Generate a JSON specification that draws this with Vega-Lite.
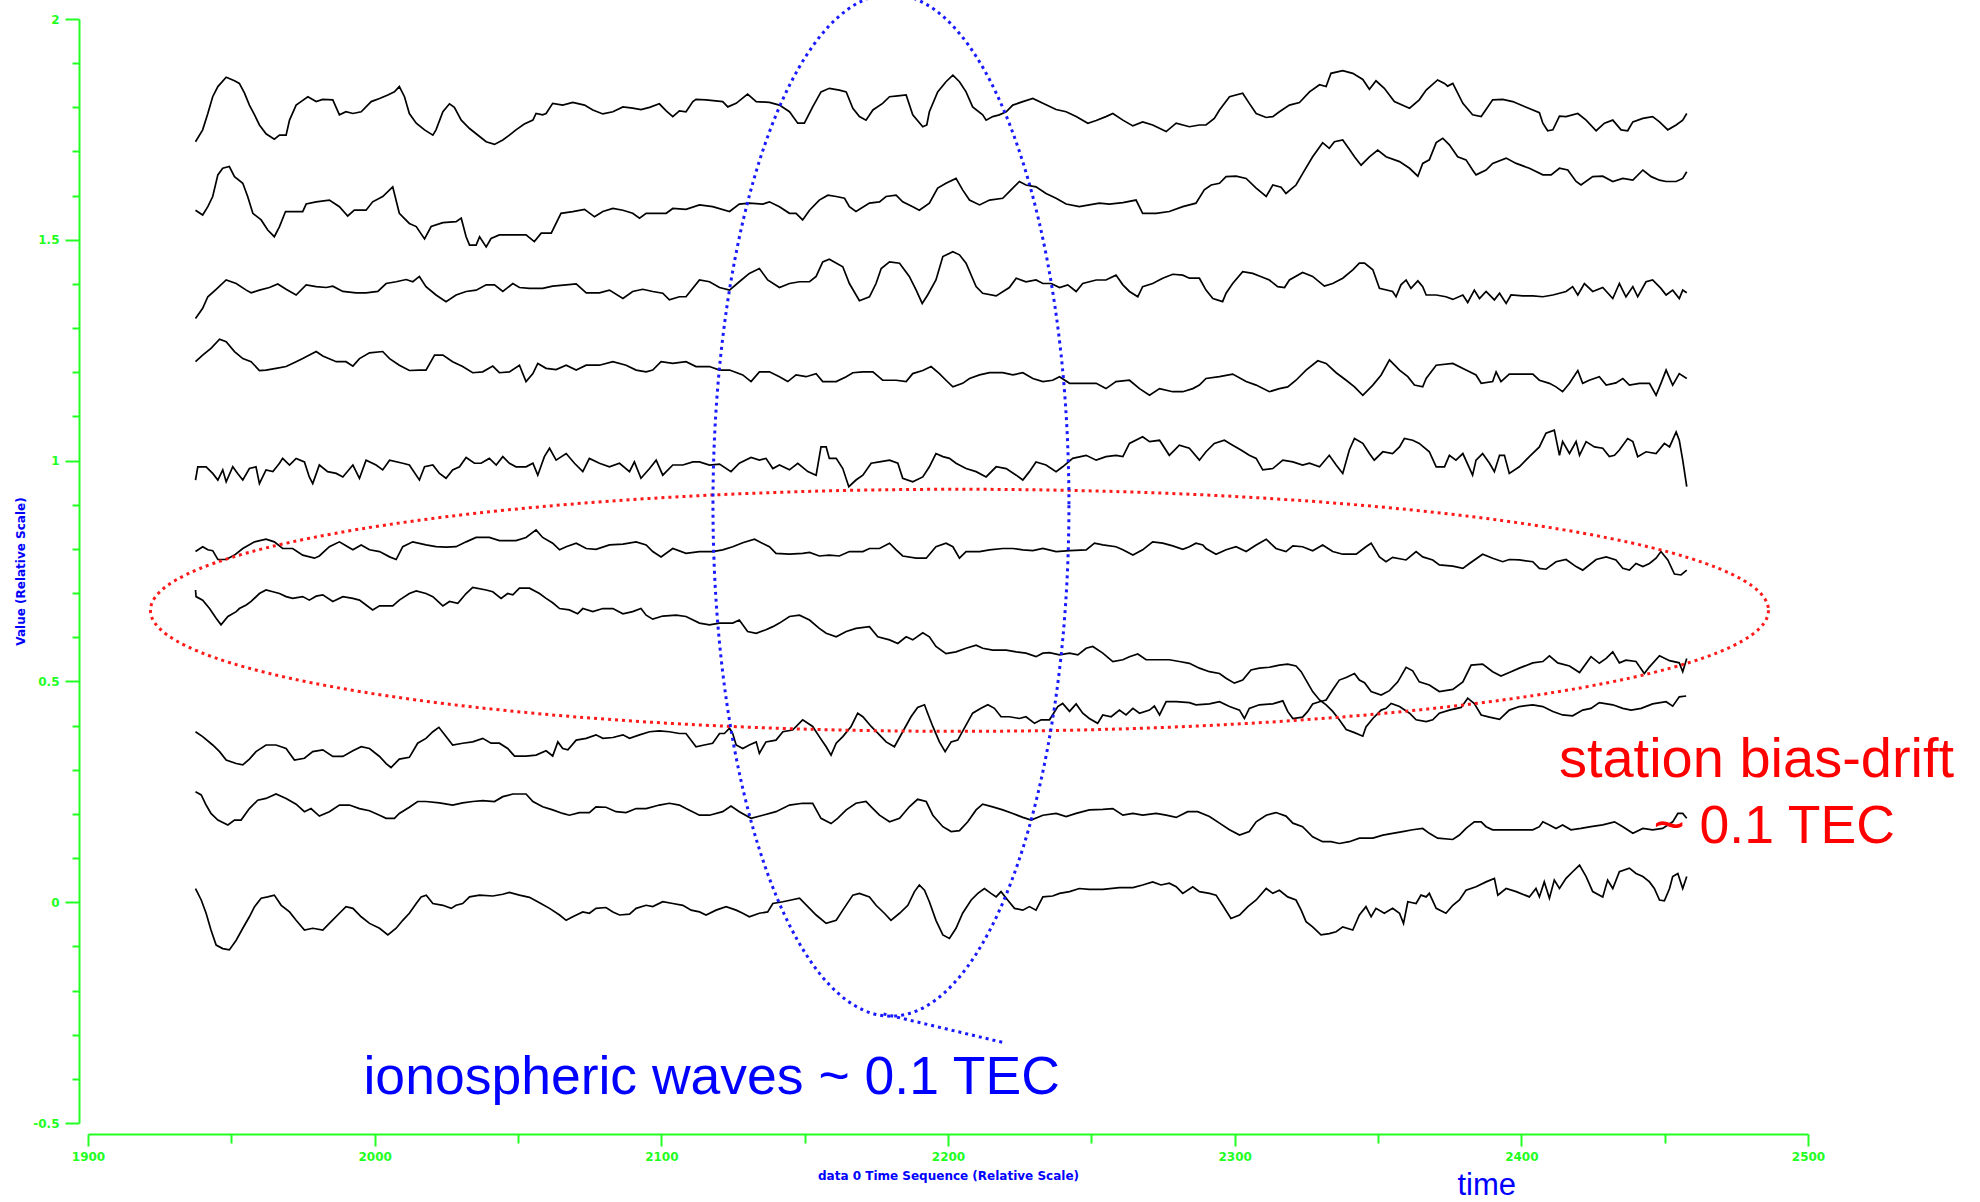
{
"$schema": "https://vega.github.io/schema/vega-lite/v6.json",
"width": 1720,
"height": 1104,
"autosize": {"type": "none"},
"padding": {"left": 88, "top": 19, "right": 172, "bottom": 79},
"background": "white",
"config": {"view": {"stroke": null}, "axis": {"grid": false}},
"resolve": {"axis": {"x": "independent", "y": "independent"}},
"layer": [
{
"data": {"values": [
{"s": 1,
"x": [1937.5,1940,1941.8,1943.5,1945.3,1948.2,1951.1,1952.8,1954.6,1956.3,1958.1,1959.8,1962.1,1965,1966.8,1969.1,1970.3,1972.6,1974.3,1976.7,1979.6,1981.9,1985.4,1987.7,1990,1992.4,1995.3,1998.8,2001.7,2004.6,2006.9,2008.6,2010.4,2012.1,2014.5,2017.4,2020.3,2021.4,2023.8,2026.1,2027.8,2030.2,2033.1,2036.6,2038.9,2041.8,2044.7,2047,2049.3,2052.2,2055.2,2056.3,2058.6,2059.8,2062.1,2065.6,2069.1,2073.2,2076.1,2079.6,2083.1,2086.6,2090,2092.9,2095.9,2099.3,2101.7,2104,2106.3,2108.6,2111,
2112.1,2115.6,2121.4,2123.2,2126.1,2130.1,2133.1,2137.7,2141.2,2144.7,2147.6,2149.9,2152.8,2155.7,2158.6,2162.1,2164.5,2166.8,2169.1,2171.4,2173.8,2177.2,2179.6,2182.5,2185.4,2187.7,2191.2,2192.6,2193.5,2196.4,2199.3,2201.7,2204,2206.3,2208.6,2212.1,2213.3,2215.6,2217.9,2220.3,2222.6,2226.1,2229.6,2233.1,2237.7,2241.2,2244.7,2248.8,2251.7,2255.1,2257.5,2261,2264.5,2267.9,2271.4,2276.1,2279.6,2284.2,2287.7,
2290,2292.9,2294.7,2298.2,2302.8,2305.1,2307.5,2311,2313.3,2315.6,2319.1,2322.6,2326.1,2329.6,2331.9,2333.6,2337.7,2341.2,2344.7,2347,2349.3,2352.2,2355.7,2361,2364.4,2366.8,2370.8,2373.2,2374.3,2376.1,2379.6,2383,2386,2390,2393.5,2397,2401.7,2406.3,2407.5,2409.2,2411,2413.3,2415.6,2419.7,2422.6,2426.1,2429,2431.9,2434.8,2437.1,2438.9,2442.4,2445.8,2448.2,2451.1,2454,2456.3,2457.7],
"y": [1.722,1.749,1.786,1.824,1.847,1.868,1.860,1.854,1.832,1.805,1.783,1.760,1.740,1.728,1.737,1.737,1.771,1.805,1.813,1.824,1.813,1.818,1.817,1.783,1.790,1.786,1.790,1.813,1.820,1.828,1.835,1.847,1.824,1.786,1.764,1.749,1.737,1.749,1.790,1.808,1.800,1.771,1.752,1.734,1.722,1.716,1.726,1.737,1.749,1.762,1.771,1.786,1.783,1.786,1.809,1.805,1.811,1.805,1.794,1.785,1.790,1.801,1.798,1.795,1.800,1.808,1.792,1.779,1.792,1.790,1.813,
1.818,1.817,1.813,1.801,1.809,1.830,1.813,1.811,1.805,1.790,1.764,1.764,1.801,1.835,1.843,1.839,1.835,1.798,1.779,1.771,1.794,1.809,1.824,1.826,1.828,1.783,1.756,1.760,1.790,1.835,1.858,1.873,1.858,1.835,1.801,1.783,1.771,1.779,1.783,1.790,1.805,1.813,1.820,1.809,1.795,1.790,1.779,1.764,1.770,1.779,1.786,1.771,1.758,1.767,1.760,1.745,1.764,1.756,1.760,
1.760,1.775,1.794,1.824,1.832,1.809,1.786,1.777,1.779,1.790,1.805,1.811,1.835,1.851,1.847,1.877,1.883,1.877,1.863,1.841,1.860,1.843,1.813,1.798,1.817,1.839,1.862,1.854,1.848,1.854,1.809,1.783,1.779,1.817,1.818,1.813,1.800,1.788,1.764,1.747,1.749,1.780,1.779,1.786,1.771,1.747,1.764,1.771,1.749,1.747,1.767,1.775,1.779,1.767,1.749,1.760,1.771,1.786]},
{"s": 2,
"x": [1937.5,1940,1941.8,1943.5,1945.3,1947,1949.3,1951.1,1954,1955.7,1957.5,1960.4,1962.7,1965,1966.8,1968.9,1972,1974.9,1976.1,1979.6,1984.2,1987.7,1990.6,1992.9,1997,1999.3,2002.8,2006.3,2008.6,2012.1,2014.5,2017.4,2019.7,2023.8,2028.4,2030.2,2031.9,2033.1,2035.4,2036.6,2038.9,2040.6,2043.5,2048.2,2052.8,2055.7,2058.1,2061.6,2065,2069.1,2073.2,2076.7,2079.6,2083.1,2086.6,2090,2092.4,2094.7,2098.2,2101.7,2104,2108.6,
2113.3,2117.9,2123.8,2127.2,2130.7,2135.4,2137.7,2141.2,2144.7,2147,2149.3,2151.7,2155.1,2158.1,2161,2163.9,2165.6,2167.9,2172.6,2176.1,2178.4,2181.9,2184.2,2187.7,2190,2193.5,2196.4,2199.3,2202.8,2205.1,2207.5,2211,2214.5,2219.1,2222,2224.9,2227.2,2230.7,2234.2,2237.7,2241.2,2245.8,2249.3,2252.8,2256.3,2261,2265.6,2267.9,2272.6,2277.2,2281.9,2286.5,
2289.4,2291.8,2294.7,2297,2300.5,2304,2307.5,2311,2313.3,2316.2,2317.9,2321.4,2323.7,2327.2,2330.7,2333,2334.8,2337.7,2340,2341.8,2344.1,2347,2349.9,2352.8,2357.5,2361,2363.9,2365.6,2367.9,2370.3,2372.6,2374.9,2377.8,2380.7,2383,2384.2,2387.7,2390,2394.7,2398.2,2402.8,2407.5,2410.4,2413.3,2416.2,2419.1,2420.8,2424.9,2428.4,2431.9,2435.4,2438.9,2442.4,2445.3,2448.2,2450.5,2454,2456.3,2457.7],
"y": [1.567,1.556,1.575,1.598,1.647,1.662,1.666,1.643,1.628,1.598,1.560,1.545,1.522,1.507,1.530,1.564,1.564,1.564,1.581,1.586,1.590,1.575,1.554,1.567,1.567,1.586,1.598,1.620,1.560,1.537,1.530,1.502,1.530,1.539,1.541,1.549,1.507,1.488,1.488,1.507,1.484,1.503,1.511,1.511,1.511,1.496,1.515,1.515,1.560,1.564,1.569,1.552,1.564,1.571,1.567,1.560,1.549,1.560,1.560,1.560,1.571,1.569,
1.579,1.575,1.564,1.581,1.583,1.581,1.586,1.575,1.560,1.560,1.545,1.567,1.590,1.601,1.598,1.594,1.575,1.564,1.583,1.586,1.598,1.601,1.586,1.575,1.567,1.583,1.617,1.628,1.639,1.613,1.590,1.579,1.590,1.594,1.613,1.632,1.624,1.620,1.605,1.594,1.581,1.575,1.579,1.583,1.581,1.584,1.590,1.560,1.560,1.564,1.575,1.583,
1.613,1.624,1.628,1.643,1.644,1.639,1.617,1.598,1.624,1.619,1.605,1.624,1.650,1.688,1.720,1.707,1.722,1.726,1.705,1.688,1.669,1.688,1.703,1.688,1.677,1.662,1.644,1.673,1.681,1.720,1.730,1.715,1.688,1.681,1.658,1.647,1.658,1.673,1.685,1.673,1.662,1.647,1.647,1.662,1.658,1.632,1.624,1.643,1.644,1.632,1.639,1.635,1.658,1.643,1.635,1.632,1.632,1.639,1.654]},
{"s": 3,
"x": [1937.5,1940,1941.8,1944.7,1948.2,1951.7,1955.2,1956.9,1959.8,1963.3,1966.2,1969.1,1972.6,1976.1,1979.6,1983.1,1985.4,1988.9,1993.5,1997,2001.1,2004,2007.5,2011,2013.3,2015.6,2017.9,2021.4,2024.9,2028.4,2031.9,2035.4,2038.9,2041.8,2044.7,2048.2,2050.5,2054,2058.6,2062.1,2066.8,2070.3,2073.8,2078.4,2081.9,2086.6,2090,2093.5,2097,2100.5,2102.8,2106.3,2108.6,
2113.3,2116.8,2120.3,2123.8,2127.2,2130.7,2134.2,2137.1,2141.2,2144.7,2148.2,2151.7,2154,2156.3,2158.6,2163.3,2165.6,2169.1,2172.6,2174.9,2176.7,2179.6,2183.1,2186.5,2188.9,2191,2192.9,2195.8,2198.2,2201.7,2204,2206.3,2209.8,2212.1,2216.8,2221.4,2223.8,2227.2,2230.7,2233.1,2236,2238.9,2241.8,2244.7,2247,2251.7,2255.1,2258.6,2261,2263.3,2266.2,2267.9,2271.4,2274.9,2278.4,2281.9,2284.2,2287.7,
2290,2292.4,2295.8,2297,2299.3,2302.8,2306.3,2308.6,2312.1,2315,2317.4,2319.1,2323.7,2327.2,2331.3,2334.2,2337.7,2341.2,2343.5,2345.3,2348.2,2350.5,2355.1,2356.3,2358,2359.8,2361.5,2363.9,2365.6,2366.8,2370.3,2373.7,2376.1,2379.6,2381.3,2383.6,2385.4,2387.7,2390.6,2392.4,2394.7,2396.4,2400.5,2404,2407.5,2411,2415.6,2417.9,2419.7,2422,2424.9,2428.4,2431.9,2434.2,2436.5,2438.9,2440.6,2443.5,2445.8,2448.7,2450.5,2452.8,2455.1,2456.3,2457.7],
"y": [1.322,1.345,1.371,1.388,1.409,1.401,1.386,1.380,1.386,1.392,1.400,1.388,1.375,1.398,1.394,1.392,1.395,1.383,1.380,1.380,1.383,1.401,1.405,1.410,1.405,1.417,1.394,1.375,1.360,1.375,1.383,1.386,1.398,1.398,1.383,1.401,1.392,1.390,1.390,1.395,1.398,1.400,1.380,1.380,1.386,1.367,1.383,1.388,1.383,1.379,1.364,1.371,1.371,
1.409,1.405,1.392,1.386,1.405,1.424,1.435,1.409,1.392,1.401,1.405,1.405,1.417,1.450,1.456,1.439,1.401,1.362,1.371,1.401,1.435,1.450,1.447,1.417,1.386,1.356,1.375,1.409,1.462,1.473,1.466,1.447,1.394,1.379,1.373,1.392,1.413,1.405,1.409,1.401,1.401,1.392,1.398,1.383,1.401,1.409,1.409,1.420,1.398,1.383,1.371,1.394,1.401,1.413,1.422,1.420,1.413,1.413,
1.386,1.367,1.360,1.379,1.401,1.428,1.424,1.418,1.409,1.394,1.392,1.409,1.426,1.417,1.395,1.401,1.413,1.432,1.447,1.447,1.432,1.390,1.383,1.371,1.398,1.409,1.390,1.407,1.394,1.375,1.375,1.371,1.365,1.375,1.358,1.386,1.367,1.383,1.364,1.379,1.356,1.375,1.373,1.373,1.371,1.375,1.383,1.394,1.375,1.401,1.383,1.392,1.367,1.401,1.371,1.394,1.371,1.405,1.409,1.390,1.375,1.386,1.367,1.386,1.380]},
{"s": 4,
"x": [1937.5,1940,1942.9,1945.9,1948.2,1951.1,1954,1956.9,1959.8,1962.1,1965.6,1969.1,1972.6,1974.9,1979.6,1981.9,1986.6,1990,1992.4,1994.7,1998.2,2002.8,2005.2,2008.6,2012.1,2015.6,2017.9,2020.9,2023.8,2027.2,2030.7,2034.2,2037.7,2041.2,2043.5,2047,2050.5,2052.8,2055.2,2056.9,2059.8,2063.3,2066.8,2070.3,2073.8,2078.4,2083.1,2087.7,2091.2,2094.7,2097,2099.9,2104,2108.6,
2112.1,2116.8,2120.3,2123.8,2128.4,2131.3,2134.2,2137.7,2141.2,2144.1,2147,2150.5,2154,2156.3,2161,2164.5,2166.8,2170.3,2173.8,2177.2,2181.9,2185.4,2187.7,2191.2,2194.1,2197,2199.3,2201.7,2205.1,2207.5,2211,2214.5,2219.1,2222.6,2226.1,2229.6,2233.1,2236.5,2238.9,2242.4,2247,2251.7,2255.1,2258.6,2263.3,2266.8,2270.3,2273.8,2278.4,2281.9,2285.4,2287.7,
2290,2294.7,2299.3,2304,2307.5,2312.1,2315.6,2318.5,2321.4,2324.9,2329,2331.9,2335.4,2338.9,2341.8,2344.7,2348.2,2351.1,2354,2357.5,2360.4,2362.7,2365.6,2366.8,2370.3,2376.1,2380.7,2384.2,2386,2390,2391.2,2392.9,2395.8,2404,2406.3,2409.8,2412.1,2414.4,2416.8,2419.7,2421.4,2423.7,2427.2,2429.6,2433,2435.4,2437.7,2441.2,2444.7,2447,2448.7,2450.5,2452.8,2455.1,2457.7],
"y": [1.224,1.239,1.254,1.275,1.269,1.247,1.231,1.224,1.204,1.205,1.209,1.213,1.224,1.231,1.247,1.237,1.224,1.224,1.214,1.231,1.244,1.247,1.231,1.216,1.204,1.205,1.205,1.239,1.239,1.224,1.213,1.199,1.201,1.214,1.199,1.201,1.216,1.179,1.197,1.220,1.209,1.206,1.216,1.205,1.216,1.216,1.224,1.216,1.205,1.201,1.205,1.224,1.220,1.224,
1.213,1.213,1.205,1.205,1.194,1.179,1.201,1.201,1.190,1.179,1.194,1.190,1.197,1.179,1.179,1.190,1.199,1.201,1.201,1.182,1.182,1.179,1.197,1.204,1.213,1.197,1.182,1.167,1.175,1.186,1.194,1.199,1.199,1.194,1.199,1.186,1.179,1.182,1.190,1.175,1.175,1.175,1.163,1.179,1.182,1.163,1.148,1.163,1.156,1.156,1.163,1.171,
1.186,1.190,1.196,1.179,1.171,1.156,1.163,1.167,1.182,1.205,1.226,1.220,1.199,1.182,1.167,1.148,1.171,1.194,1.228,1.205,1.190,1.171,1.167,1.186,1.216,1.220,1.205,1.194,1.175,1.179,1.201,1.179,1.196,1.196,1.182,1.175,1.167,1.156,1.175,1.204,1.175,1.182,1.190,1.171,1.176,1.186,1.171,1.175,1.175,1.148,1.175,1.205,1.171,1.197,1.186]},
{"s": 5,
"x": [1937.5,1938.3,1941.2,1943.5,1945.3,1947,1948.2,1950.5,1952.2,1954,1956.3,1958.6,1959.8,1962.1,1964.5,1966.8,1967.9,1970.3,1972.6,1975.5,1977.2,1978.4,1980.7,1983.6,1986.6,1988.9,1992.4,1994.7,1997,2000.5,2002.8,2005.2,2009.8,2012.1,2015.6,2017.4,2020.3,2022.6,2024.9,2027.2,2029.6,2031.9,2034.8,2037.1,2040,2042.4,2044.7,2047,2049.3,2052.8,2055.2,2056.9,2059.2,2061,2063.3,2066.8,2069.7,2072.6,2074.9,2078.4,2081.9,2085.4,2088.9,2090.6,2092.9,2095.9,2098.2,2100.5,2104,2107.5,2111,
2113.3,2116.8,2120.3,2124.3,2127.2,2131.3,2134.2,2136.5,2138.9,2141.2,2144.7,2147.6,2151.1,2154,2155.7,2157.5,2158.6,2161,2163.3,2165.4,2167.9,2170.3,2173.2,2176.1,2179.6,2182.5,2184.2,2187.7,2191.2,2193.5,2195.8,2198.2,2200.5,2202.8,2206.3,2209.8,2213.3,2216.8,2220.3,2223.8,2226.1,2228.4,2230.7,2234.2,2237.7,2240,2243.5,2248.2,2251.7,2255.1,2258.6,2261,2263.3,2267.9,2270.3,2273.8,2277.2,2280.7,2284.2,2287.7,
2290,2292.9,2296.4,2299.3,2302.2,2305.1,2307.5,2309.8,2313.3,2316.8,2320.3,2323.7,2326.1,2329.6,2333,2335.4,2337.7,2340,2341.8,2344.7,2347,2348.7,2351.7,2355.1,2357.5,2359.2,2362.1,2364.4,2367.9,2370.3,2373.2,2374.9,2377.2,2379.6,2383,2384.2,2386.5,2388.9,2390.6,2392.4,2394.1,2395.8,2399.3,2402.8,2406.3,2408.6,2411.5,2413.3,2414.4,2416.8,2419.1,2420.3,2422.6,2425.5,2428.4,2430.7,2432.5,2434.2,2437.1,2438.9,2440.6,2443.5,2447,2449.9,2451.7,2454,2455.1,2456.3,2457.7],
"y": [0.956,0.986,0.986,0.971,0.956,0.979,0.952,0.986,0.971,0.956,0.982,0.986,0.948,0.979,0.975,0.994,1.005,0.990,1.005,0.997,0.963,0.948,0.990,0.975,0.971,0.963,0.990,0.960,1.001,0.990,0.979,1.001,0.994,0.990,0.956,0.986,0.990,0.971,0.960,0.979,0.986,1.007,0.994,0.994,1.005,0.990,1.009,0.994,0.986,0.986,0.994,0.967,1.009,1.028,1.001,1.016,0.994,0.975,1.005,0.994,0.986,0.994,0.975,0.997,0.960,0.982,1.001,0.967,0.990,0.990,0.997,
0.997,0.990,0.992,0.975,0.994,1.007,1.001,1.005,0.982,0.990,0.979,0.994,0.975,0.967,1.031,1.031,1.005,1.005,0.982,0.941,0.956,0.967,0.994,0.997,1.001,0.994,0.960,0.952,0.963,0.986,1.016,1.009,1.005,0.994,0.982,0.975,0.963,0.986,0.982,0.967,0.956,0.975,0.997,0.990,0.975,0.986,1.005,1.012,1.001,1.009,1.012,1.009,1.039,1.054,1.043,1.046,1.012,1.035,1.028,1.001,
1.020,1.039,1.046,1.035,1.024,1.012,1.005,0.979,0.982,1.001,0.997,0.990,0.994,0.986,1.012,0.990,0.971,1.024,1.050,1.039,1.016,1.001,1.020,1.016,1.031,1.050,1.046,1.039,1.020,0.986,0.986,1.012,1.001,1.016,0.967,1.001,1.016,0.994,0.975,1.012,1.012,0.971,0.986,1.009,1.031,1.062,1.069,1.012,1.043,1.016,1.043,1.012,1.043,1.031,1.028,1.009,1.012,1.024,1.050,1.043,1.009,1.020,1.016,1.039,1.031,1.065,1.046,1.001,0.941]},
{"s": 6,
"x": [1937.5,1940,1941.8,1943.5,1945.3,1948.2,1951.1,1954,1958.1,1962.1,1965,1967.9,1971.4,1974.9,1979,1980.7,1984.2,1987.7,1990,1992.4,1995.3,1998.2,2001.7,2005.2,2007.5,2009.8,2013.3,2017.9,2021.4,2024.9,2028.4,2031.9,2035.4,2040,2043.5,2049.3,2052.8,2056.3,2058.6,2062.1,2064.5,2066.8,2070.3,2073.8,2077.2,2081.9,2086.6,2091.2,2094.7,2097,2099.9,2104,2108.6,
2113.3,2117.9,2121.4,2124.9,2128.4,2132.5,2134.2,2137.7,2140,2144.7,2149.3,2151.7,2155.1,2158.6,2162.1,2165.6,2170.3,2172.6,2176.1,2179.6,2181.9,2184.2,2188.9,2192.4,2195.8,2199.3,2201.7,2204,2206.3,2211,2214.5,2219.1,2222.6,2226.1,2229.6,2233.1,2237.7,2242.4,2248.2,2251.1,2254,2258.6,2261,2264.5,2267.9,2271.4,2274.9,2278.4,2281.9,2284.2,2286.5,2288.9,
2290,2293.5,2297,2300.5,2304,2307.5,2311,2314.4,2317.9,2320.3,2323.7,2327.2,2330.7,2334.2,2337.7,2342.4,2345.8,2347.6,2350.5,2352.8,2355.1,2359.8,2363.3,2365.6,2369.1,2371.4,2376.1,2379.6,2381.9,2386.5,2390,2393.5,2395.8,2399.3,2404,2406.3,2408.6,2412.1,2415.6,2419.1,2421.4,2426.1,2429.6,2433,2435.4,2437.7,2440,2442.4,2444.7,2447,2448.7,2451.1,2453.4,2455.7,2457.7],
"y": [0.794,0.805,0.798,0.796,0.776,0.776,0.786,0.801,0.816,0.822,0.816,0.801,0.801,0.786,0.779,0.784,0.805,0.816,0.807,0.798,0.809,0.798,0.794,0.782,0.776,0.805,0.816,0.809,0.805,0.804,0.805,0.816,0.826,0.826,0.819,0.819,0.826,0.843,0.826,0.813,0.798,0.805,0.813,0.801,0.799,0.809,0.811,0.816,0.809,0.794,0.782,0.801,0.790,
0.794,0.794,0.798,0.805,0.814,0.822,0.816,0.805,0.790,0.788,0.790,0.792,0.784,0.786,0.784,0.794,0.794,0.801,0.801,0.813,0.798,0.784,0.779,0.779,0.805,0.813,0.805,0.779,0.794,0.794,0.798,0.801,0.801,0.798,0.796,0.801,0.794,0.796,0.798,0.813,0.809,0.805,0.798,0.786,0.798,0.816,0.813,0.807,0.799,0.805,0.813,0.809,
0.801,0.788,0.798,0.805,0.794,0.809,0.822,0.801,0.794,0.807,0.805,0.796,0.809,0.794,0.788,0.788,0.805,0.813,0.782,0.771,0.781,0.775,0.794,0.782,0.775,0.764,0.761,0.756,0.767,0.788,0.779,0.771,0.776,0.775,0.771,0.756,0.754,0.771,0.776,0.760,0.752,0.776,0.782,0.775,0.756,0.752,0.767,0.760,0.767,0.779,0.794,0.775,0.743,0.741,0.752]},
{"s": 7,
"x": [1937.5,1937.7,1940,1942.4,1944.7,1946.4,1948.8,1951.7,1952.8,1955.2,1956.9,1959.8,1962.1,1964.5,1966.8,1969.1,1971.4,1974.9,1977.2,1979.6,1981.9,1985.4,1988.9,1992.4,1994.7,1997,1999.3,2001.7,2006.3,2008.6,2012.1,2014.5,2017.9,2020.3,2023.8,2026.1,2029,2031.9,2034.2,2038.9,2041.2,2044.1,2046.4,2048.2,2050.5,2054,2057.5,2059.8,2062.1,2064.5,2067.9,2070.8,2072.6,2076.1,2079.6,2083.1,2086.6,2090,2092.9,2094.7,2097,2100.5,2105.2,2108.6,
2113.3,2116.8,2120.3,2124.9,2127.2,2130.1,2133.1,2136.5,2138.9,2141.2,2144.7,2148.2,2151.7,2155.1,2157.5,2161,2164.5,2167.9,2172.6,2175.5,2179.6,2182.5,2185.4,2187.7,2191.2,2193.5,2195.8,2199.3,2202.8,2206.3,2209.8,2212.1,2215.6,2220.3,2223.8,2227.2,2230.7,2233.1,2235.4,2238.9,2242.4,2245.3,2248.2,2250.5,2254,2257.5,2261,2263.3,2266.2,2269.1,2272.6,2277.2,2280.7,2284.2,2287.7,
2291.2,2294.7,2297,2299.9,2302.8,2305.7,2308.6,2312.1,2315.6,2318.5,2321.4,2323.2,2324.9,2327.2,2329.6,2331.9,2334.2,2336.5,2338.9,2341.8,2344.7,2345.8,2348.2,2351.1,2352.8,2354.6,2357.5,2361,2363.3,2366.8,2369.1,2371.4,2374.9,2379,2381.3,2383.6,2386,2388.9,2392.4,2395.8,2399.3,2404,2407.5,2411,2414.4,2417.9,2421.4,2424.3,2427.2,2431.9,2435.4,2438.3,2441.8,2445.8,2450.5,2452.8,2455.1,2457.5],
"y": [0.707,0.692,0.684,0.665,0.643,0.628,0.647,0.658,0.665,0.673,0.681,0.699,0.707,0.703,0.699,0.692,0.688,0.692,0.684,0.693,0.696,0.681,0.692,0.688,0.684,0.673,0.662,0.671,0.671,0.684,0.699,0.705,0.699,0.692,0.671,0.681,0.677,0.699,0.713,0.707,0.703,0.688,0.699,0.696,0.711,0.711,0.699,0.688,0.678,0.665,0.662,0.653,0.665,0.658,0.665,0.665,0.653,0.658,0.665,0.650,0.641,0.648,0.650,0.647,
0.632,0.628,0.632,0.632,0.639,0.613,0.609,0.617,0.624,0.632,0.647,0.650,0.639,0.620,0.609,0.601,0.613,0.620,0.624,0.601,0.594,0.586,0.601,0.594,0.610,0.601,0.579,0.563,0.567,0.575,0.582,0.575,0.571,0.571,0.567,0.564,0.556,0.564,0.565,0.560,0.564,0.560,0.575,0.579,0.564,0.545,0.549,0.556,0.562,0.549,0.549,0.549,0.545,0.541,0.530,
0.522,0.518,0.507,0.496,0.503,0.526,0.530,0.532,0.537,0.539,0.535,0.522,0.503,0.477,0.458,0.447,0.432,0.413,0.391,0.384,0.376,0.397,0.416,0.435,0.439,0.450,0.443,0.428,0.413,0.409,0.413,0.428,0.435,0.441,0.462,0.450,0.424,0.419,0.414,0.435,0.443,0.447,0.443,0.432,0.424,0.422,0.435,0.439,0.452,0.447,0.439,0.435,0.439,0.449,0.454,0.444,0.465,0.467]},
{"s": 8,
"x": [1937.5,1940,1943.5,1945.9,1948.2,1951.7,1954,1956.3,1958.6,1962.1,1965.6,1969.1,1972,1975.5,1978.4,1981.9,1985.4,1988.9,1992.4,1995.3,1998.2,2001.7,2004,2005.7,2008.6,2012.1,2015,2017.9,2020.3,2022.4,2024.9,2027.2,2030.7,2034.2,2037.7,2040.6,2043.5,2046.4,2048.8,2052.8,2056.3,2059.8,2062.1,2063.9,2065.6,2067.4,2070.3,2073.8,2077.2,2079.6,2083.1,2086.6,2088.9,2092.4,2095.9,2099.3,2102.8,2106.3,2108.6,
2112.1,2115,2117.9,2120.3,2122,2123.8,2124.9,2126.1,2128.4,2130.7,2133.1,2134.2,2136.5,2140,2142.4,2145.8,2149.3,2152.8,2155.1,2157.5,2159.2,2161,2163.3,2166.2,2168.5,2170.3,2173.2,2176.1,2178.4,2181.3,2184.2,2187.1,2189.4,2191.8,2192.9,2194.7,2197,2199,2201.1,2203.4,2205.7,2208.6,2211.5,2213.9,2216.2,2218.5,2221.4,2224.9,2227.2,2230.2,2232.5,2235.4,2238.3,2240,2242.4,2244.7,2247,2249.3,2252.2,2254,2256.9,2259.8,2262.1,2264.5,2266.8,2270.3,2272,2273.8,2276.1,2279.6,2284.2,2286.5,
2291.2,2294.7,2298.2,2301.7,2303.4,2305.1,2308.6,2313.3,2316.8,2318.5,2320.3,2323.7,2325.5,2327.2,2329.6,2331.9,2334.2,2336.5,2338.9,2341.8,2343.5,2345.3,2347.6,2351.1,2354,2356.9,2359.8,2362.1,2364.4,2367.9,2371.4,2376.1,2379.6,2382.5,2386.5,2390,2392.9,2395.8,2399.3,2404,2407.5,2409.8,2412.7,2416.8,2420.3,2424.3,2427.2,2429.6,2431.9,2434.2,2436.5,2440,2442.9,2444.7,2448.2,2451.7,2455.1,2456.3,2457.7],
"y": [0.386,0.375,0.356,0.341,0.322,0.314,0.311,0.324,0.341,0.356,0.356,0.348,0.322,0.326,0.341,0.345,0.330,0.330,0.343,0.352,0.348,0.330,0.314,0.305,0.324,0.328,0.360,0.371,0.386,0.396,0.375,0.356,0.360,0.363,0.371,0.360,0.360,0.348,0.331,0.331,0.333,0.343,0.331,0.363,0.348,0.345,0.367,0.371,0.379,0.371,0.373,0.379,0.371,0.379,0.386,0.388,0.386,0.382,0.382,
0.352,0.356,0.360,0.382,0.382,0.394,0.382,0.356,0.348,0.356,0.363,0.337,0.363,0.367,0.386,0.390,0.413,0.398,0.375,0.352,0.333,0.360,0.375,0.398,0.428,0.420,0.398,0.379,0.363,0.352,0.386,0.420,0.441,0.447,0.428,0.398,0.363,0.341,0.363,0.367,0.394,0.428,0.439,0.447,0.439,0.420,0.420,0.416,0.420,0.405,0.413,0.413,0.443,0.450,0.432,0.449,0.428,0.416,0.405,0.424,0.420,0.435,0.424,0.439,0.428,0.435,0.444,0.424,0.454,0.454,0.452,0.447,
0.449,0.454,0.443,0.435,0.416,0.439,0.447,0.449,0.456,0.432,0.416,0.419,0.432,0.449,0.454,0.458,0.481,0.503,0.509,0.518,0.503,0.497,0.477,0.469,0.479,0.499,0.532,0.524,0.499,0.492,0.477,0.482,0.499,0.537,0.539,0.522,0.512,0.520,0.530,0.542,0.545,0.558,0.542,0.535,0.520,0.556,0.541,0.552,0.567,0.542,0.548,0.545,0.518,0.533,0.558,0.547,0.542,0.522,0.552]},
{"s": 9,
"x": [1937.5,1939.5,1941.2,1942.9,1945.3,1948.8,1951.1,1953.4,1956.3,1959.2,1962.1,1965.6,1969.1,1972.6,1975.5,1977.8,1980.7,1984.2,1987.7,1991.2,1994.7,1998.2,2001.7,2004,2006.9,2008.6,2012.1,2015,2017.9,2022.6,2027.2,2030.7,2034.2,2037.7,2041.8,2044.7,2048.2,2052.8,2055.2,2058.6,2062.1,2065.6,2067.9,2071.4,2074.9,2077.2,2080.7,2084.2,2087.7,2091.2,2094.7,2099.3,2102.8,2106.3,2108.6,
2113.3,2116.8,2121.4,2124.3,2127.2,2131.3,2135.4,2140,2144.7,2149.3,2152.8,2155.7,2159.2,2161.5,2164.5,2167.9,2171.4,2173.2,2176.1,2179.6,2183.1,2186.5,2189.4,2192.4,2194.7,2198.2,2201.1,2204,2206.9,2209.8,2212.1,2215.6,2219.1,2222.6,2226.1,2229,2233.1,2237.7,2241.2,2244.7,2249.3,2254,2257.5,2261,2264.5,2267.9,2272.6,2276.1,2279.6,2283.6,2287.1,
2291.2,2294.7,2298.2,2301.7,2305.1,2307.5,2311,2314.4,2317.9,2320.3,2323.7,2327.2,2330.7,2333.6,2336.5,2340,2343.5,2348.2,2351.7,2355.1,2358.6,2362.1,2365.6,2367.9,2370.8,2376.1,2378.4,2380.7,2383.6,2386,2387.7,2390,2394.7,2399.3,2404,2406.3,2407.5,2409.8,2412.1,2414.4,2417.3,2420.8,2424.3,2428.4,2432.5,2435.4,2438.9,2442.4,2445.8,2449.3,2452.8,2454.6,2456.3,2457.7],
"y": [0.250,0.243,0.220,0.201,0.186,0.175,0.186,0.186,0.212,0.231,0.235,0.245,0.235,0.222,0.205,0.212,0.195,0.205,0.220,0.220,0.212,0.207,0.197,0.190,0.190,0.201,0.215,0.228,0.228,0.225,0.220,0.225,0.228,0.230,0.228,0.239,0.245,0.245,0.228,0.216,0.209,0.201,0.197,0.203,0.203,0.216,0.215,0.205,0.203,0.212,0.212,0.220,0.224,0.220,0.212,
0.197,0.197,0.205,0.218,0.205,0.190,0.197,0.205,0.220,0.224,0.224,0.190,0.178,0.190,0.209,0.224,0.228,0.216,0.197,0.182,0.190,0.216,0.233,0.228,0.197,0.171,0.160,0.162,0.182,0.209,0.222,0.216,0.209,0.201,0.192,0.186,0.197,0.201,0.194,0.201,0.209,0.210,0.212,0.197,0.201,0.197,0.201,0.197,0.192,0.205,0.205,
0.194,0.179,0.164,0.152,0.160,0.182,0.197,0.203,0.195,0.179,0.171,0.148,0.137,0.137,0.133,0.137,0.145,0.145,0.152,0.156,0.160,0.164,0.167,0.156,0.145,0.142,0.152,0.167,0.182,0.182,0.171,0.164,0.164,0.164,0.164,0.171,0.182,0.175,0.167,0.175,0.164,0.167,0.171,0.175,0.182,0.171,0.156,0.167,0.164,0.167,0.182,0.201,0.201,0.190]},
{"s": 10,
"x": [1937.5,1939.5,1941.2,1942.9,1944.7,1947,1949.3,1951.7,1954,1956.3,1958.1,1960.4,1962.7,1965,1967.4,1970.3,1972.6,1975.5,1978.4,1981.9,1984.8,1987.7,1990,1992.4,1995.3,1998.2,2001.7,2004.6,2007.5,2009.8,2012.1,2014.5,2016.2,2018,2020.3,2023.8,2026.7,2028.4,2030.7,2033.1,2036.6,2041.2,2044.7,2047,2050.5,2054,2057.5,2061,2064.5,2066.8,2069.1,2072.6,2074.9,2077.2,2080.7,2083.1,2085.4,2088.9,2091.2,2094.7,2097,2100.5,2104,2107.5,2110.4,
2113.3,2115.6,2119.1,2122.6,2126.1,2128.4,2130.7,2134.2,2137.1,2138.9,2142.4,2145.3,2148.2,2151.1,2154,2157.5,2161,2163.3,2166.8,2169.1,2172.6,2174.9,2177.8,2180.1,2183.1,2186,2188.3,2190,2191.8,2193.5,2195.8,2198.2,2200.5,2202.8,2205.1,2208.1,2210.4,2212.7,2215,2216.8,2218.5,2220.8,2223.2,2226.1,2228.4,2230.7,2233.1,2236.5,2238.9,2242.4,2245.8,2249.3,2254,2259.8,2264.5,2267.9,2271.4,2274.3,2277.2,2279.6,2281.9,2285.4,2287.7,
2291.2,2293.5,2295.8,2298.7,2301.7,2304.6,2307.5,2311,2313.3,2315.6,2318.5,2321.4,2323.2,2324.9,2327.2,2330.1,2333,2335.4,2337.7,2341.2,2343.5,2345.8,2347.6,2349.3,2352.2,2355.1,2357.5,2358.9,2360.4,2363.3,2365,2366.8,2367.9,2370.3,2373.7,2376.1,2378.4,2380.7,2384.2,2387.7,2390.6,2391.8,2394.7,2398.2,2402.8,2405.1,2406.3,2408,2409.8,2411.5,2413.3,2415.6,2417.9,2420.3,2422.6,2424.9,2428.4,2430.1,2431.9,2434.2,2437.7,2440,2442.4,2444.7,2446.4,2448.2,2449.9,2451.7,2452.8,2454.6,2456.3,2457.7],
"y": [0.031,0.005,-0.025,-0.063,-0.097,-0.105,-0.108,-0.086,-0.059,-0.033,-0.010,0.009,0.012,0.016,-0.007,-0.022,-0.041,-0.063,-0.059,-0.063,-0.044,-0.025,-0.010,-0.014,-0.033,-0.048,-0.059,-0.074,-0.059,-0.041,-0.025,-0.003,0.012,0.016,-0.003,-0.007,-0.014,-0.007,-0.003,0.012,0.016,0.014,0.018,0.022,0.016,0.011,-0.001,-0.014,-0.029,-0.041,-0.033,-0.022,-0.025,-0.014,-0.012,-0.022,-0.029,-0.027,-0.014,-0.007,-0.010,0.001,-0.003,-0.007,-0.018,
-0.022,-0.029,-0.018,-0.010,-0.018,-0.025,-0.033,-0.025,-0.022,-0.003,0.001,0.005,0.009,-0.010,-0.029,-0.048,-0.041,-0.018,0.016,0.020,0.012,-0.007,-0.025,-0.041,-0.025,-0.007,0.024,0.039,0.027,0.001,-0.041,-0.074,-0.082,-0.059,-0.025,0.005,0.020,0.031,0.020,0.012,0.024,0.005,-0.014,-0.018,-0.010,-0.018,0.012,0.014,0.020,0.024,0.031,0.029,0.029,0.033,0.033,0.039,0.046,0.039,0.043,0.035,0.020,0.035,0.024,
0.020,0.016,-0.007,-0.037,-0.029,-0.010,0.005,0.031,0.020,0.027,0.012,0.005,-0.018,-0.044,-0.056,-0.074,-0.071,-0.067,-0.056,-0.063,-0.029,-0.010,-0.033,-0.014,-0.025,-0.014,-0.025,-0.048,0.001,-0.003,0.016,0.012,0.020,-0.014,-0.025,-0.007,0.005,0.027,0.035,0.046,0.054,0.016,0.031,0.024,0.012,0.031,0.012,0.046,0.009,0.050,0.031,0.054,0.069,0.084,0.058,0.024,0.012,0.050,0.031,0.069,0.077,0.065,0.058,0.046,0.031,0.005,0.003,0.031,0.058,0.065,0.031,0.058]}
]},
"transform": [{"flatten": ["x", "y"]}],
"mark": {"type": "line", "color": "#000000", "strokeWidth": 1.7},
"encoding": {
"x": {"field": "x", "type": "quantitative", "scale": {"domain": [1900, 2500], "nice": false, "zero": false},
"axis": {"orient": "bottom", "offset": 11, "values": [1900, 2000, 2100, 2200, 2300, 2400, 2500], "format": "d", "tickSize": 12, "tickWidth": 2, "tickColor": "#22ff22", "domainColor": "#22ff22", "domainWidth": 2, "labelColor": "#22ff22", "labelFont": "DejaVu Sans", "labelFontSize": 12, "labelFontWeight": "bold", "labelPadding": 5, "labelFlush": false, "labelOverlap": false, "title": "data 0 Time Sequence (Relative Scale)", "titleColor": "#0000ff", "titleFont": "DejaVu Sans", "titleFontSize": 12, "titleFontWeight": "bold", "titleX": 860, "titleY": 41, "titleAlign": "center", "titleBaseline": "middle"}},
"y": {"field": "y", "type": "quantitative", "scale": {"domain": [-0.5, 2], "nice": false, "zero": false},
"axis": {"orient": "left", "offset": 9, "values": [-0.5, 0, 0.5, 1, 1.5, 2], "labelExpr": "replace(format(datum.value, '~g'), '\u2212', '-')", "tickSize": 14, "tickWidth": 2, "tickColor": "#22ff22", "domainColor": "#22ff22", "domainWidth": 2, "labelColor": "#22ff22", "labelFont": "DejaVu Sans", "labelFontSize": 12, "labelFontWeight": "bold", "labelPadding": 6, "labelFlush": false, "labelOverlap": false, "title": "Value (Relative Scale)", "titleColor": "#0000ff", "titleFont": "DejaVu Sans", "titleFontSize": 12, "titleFontWeight": "bold", "titleX": -59, "titleY": 552, "titleAngle": -90, "titleAlign": "center", "titleBaseline": "middle"}},
"detail": {"field": "s", "type": "nominal"}
}
},
{
"data": {"values": [{"x": 2204.0, "y": 0.661}]},
"mark": {"type": "point", "shape": "M1,0C1,0.0826,0.5523,0.1496,0,0.1496C-0.5523,0.1496,-1,0.0826,-1,0C-1,-0.0826,-0.5523,-0.1496,0,-0.1496C0.5523,-0.1496,1,-0.0826,1,0Z", "size": 2617924, "filled": false, "stroke": "#ff1a1a", "strokeWidth": 3, "strokeDash": [3, 4], "opacity": 1},
"encoding": {
"x": {"field": "x", "type": "quantitative", "scale": {"domain": [1900, 2500], "nice": false, "zero": false}, "axis": null},
"y": {"field": "y", "type": "quantitative", "scale": {"domain": [-0.5, 2], "nice": false, "zero": false}, "axis": null}
}
},
{
"data": {"values": [{"x": 2180.1, "y": 0.899}]},
"mark": {"type": "point", "shape": "M0.3483,0C0.3483,0.5523,0.1924,1,0,1C-0.1924,1,-0.3483,0.5523,-0.3483,0C-0.3483,-0.5523,-0.1924,-1,0,-1C0.1924,-1,0.3483,-0.5523,0.3483,0Z", "size": 1044484, "filled": false, "stroke": "#1a1aff", "strokeWidth": 3, "strokeDash": [3, 4], "opacity": 1},
"encoding": {
"x": {"field": "x", "type": "quantitative", "scale": {"domain": [1900, 2500], "nice": false, "zero": false},
"axis": {"orient": "bottom", "offset": 11, "values": [1950, 2050, 2150, 2250, 2350, 2450], "tickSize": 9, "tickWidth": 2, "tickColor": "#22ff22", "domain": false, "labels": false, "title": null}},
"y": {"field": "y", "type": "quantitative", "scale": {"domain": [-0.5, 2], "nice": false, "zero": false},
"axis": {"orient": "left", "offset": 9, "values": [-0.4, -0.3, -0.2, -0.1, 0.1, 0.2, 0.3, 0.4, 0.6, 0.7, 0.8, 0.9, 1.1, 1.2, 1.3, 1.4, 1.6, 1.7, 1.8, 1.9], "tickSize": 7, "tickWidth": 2, "tickColor": "#22ff22", "domain": false, "labels": false, "title": null}}
}
},
{
"data": {"values": [{"x": 2177.5, "y": -0.253}, {"x": 2220.1, "y": -0.319}]},
"mark": {"type": "line", "color": "#1a1aff", "strokeWidth": 3, "strokeDash": [3, 4]},
"encoding": {
"x": {"field": "x", "type": "quantitative", "scale": {"domain": [1900, 2500], "nice": false, "zero": false}, "axis": null},
"y": {"field": "y", "type": "quantitative", "scale": {"domain": [-0.5, 2], "nice": false, "zero": false}, "axis": null}
}
},
{
"data": {"values": [{"t": "ionospheric waves ~ 0.1 TEC", "x": 1996.1, "y": -0.434}]},
"mark": {"type": "text", "font": "Liberation Sans", "fontSize": 53.5, "color": "#0000ff", "align": "left", "baseline": "alphabetic"},
"encoding": {
"x": {"field": "x", "type": "quantitative", "scale": {"domain": [1900, 2500], "nice": false, "zero": false}, "axis": null},
"y": {"field": "y", "type": "quantitative", "scale": {"domain": [-0.5, 2], "nice": false, "zero": false}, "axis": null},
"text": {"field": "t"}
}
},
{
"data": {"values": [{"t": "time", "x": 2377.7, "y": -0.663}]},
"mark": {"type": "text", "font": "Liberation Sans", "fontSize": 31, "color": "#0000ff", "align": "left", "baseline": "alphabetic"},
"encoding": {
"x": {"field": "x", "type": "quantitative", "scale": {"domain": [1900, 2500], "nice": false, "zero": false}, "axis": null},
"y": {"field": "y", "type": "quantitative", "scale": {"domain": [-0.5, 2], "nice": false, "zero": false}, "axis": null},
"text": {"field": "t"}
}
},
{
"data": {"values": [{"t": "station bias-drift", "x": 2413.1, "y": 0.284}]},
"mark": {"type": "text", "font": "Liberation Sans", "fontSize": 56, "color": "#ff0000", "align": "left", "baseline": "alphabetic"},
"encoding": {
"x": {"field": "x", "type": "quantitative", "scale": {"domain": [1900, 2500], "nice": false, "zero": false}, "axis": null},
"y": {"field": "y", "type": "quantitative", "scale": {"domain": [-0.5, 2], "nice": false, "zero": false}, "axis": null},
"text": {"field": "t"}
}
},
{
"data": {"values": [{"t": "~ 0.1 TEC", "x": 2446.1, "y": 0.134}]},
"mark": {"type": "text", "font": "Liberation Sans", "fontSize": 53.5, "color": "#ff0000", "align": "left", "baseline": "alphabetic"},
"encoding": {
"x": {"field": "x", "type": "quantitative", "scale": {"domain": [1900, 2500], "nice": false, "zero": false}, "axis": null},
"y": {"field": "y", "type": "quantitative", "scale": {"domain": [-0.5, 2], "nice": false, "zero": false}, "axis": null},
"text": {"field": "t"}
}
}
]
}
